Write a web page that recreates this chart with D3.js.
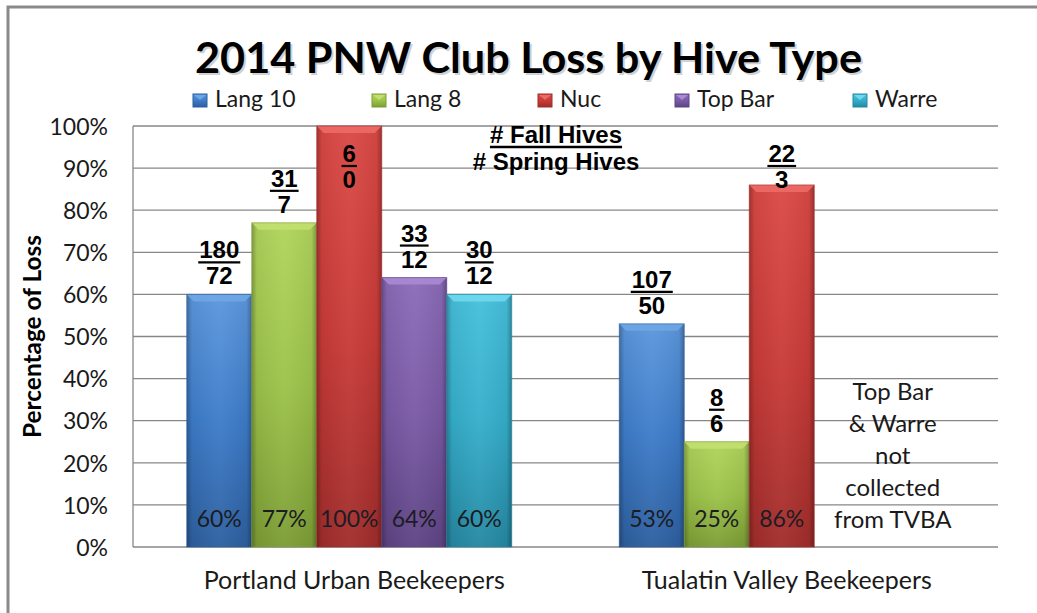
<!DOCTYPE html>
<html>
<head>
<meta charset="utf-8">
<script src="https://cdn.jsdelivr.net/npm/d3@7/dist/d3.min.js"></script>
<style>
  html, body { margin: 0; padding: 0; background: #fff; }
  svg { display: block; }
</style>
</head>
<body>
<svg id="chart" width="1037" height="613"></svg>
<script>
// ---------------- DATA ----------------
const categories = ["Portland Urban Beekeepers", "Tualatin Valley Beekeepers"];
const seriesNames = ["Lang 10", "Lang 8", "Nuc", "Top Bar", "Warre"];
// percentage of loss per series, [Portland, Tualatin]
const lang10Loss = [60, 53];
const lang8Loss  = [77, 25];
const nucLoss    = [100, 86];
const topBarLoss = [64, null];
const warreLoss  = [60, null];
// fall hive counts per series
const lang10Fall = [180, 107];
const lang8Fall  = [31, 8];
const nucFall    = [6, 22];
const topBarFall = [33, null];
const warreFall  = [30, null];
// spring hive counts per series
const lang10Spring = [72, 50];
const lang8Spring  = [7, 6];
const nucSpring    = [0, 3];
const topBarSpring = [12, null];
const warreSpring  = [12, null];
const yTicks = [0, 10, 20, 30, 40, 50, 60, 70, 80, 90, 100];
const titleText = "2014 PNW Club Loss by Hive Type";
const yAxisTitle = "Percentage of Loss";
const keyLines = ["# Fall Hives", "# Spring Hives"];
const noteLines = ["Top Bar", "& Warre", "not", "collected", "from TVBA"];

const lossBySeries = [lang10Loss, lang8Loss, nucLoss, topBarLoss, warreLoss];
const fallBySeries = [lang10Fall, lang8Fall, nucFall, topBarFall, warreFall];
const springBySeries = [lang10Spring, lang8Spring, nucSpring, topBarSpring, warreSpring];

// ---------------- STYLE / LAYOUT ----------------
const colors = {
  "Lang 10": { base: "#3d7cc9", light: "#5c97dd", dark: "#2d5f9f", bevel: "#6fa6e6" },
  "Lang 8":  { base: "#9dc34a", light: "#b0d45c", dark: "#7c9d35", bevel: "#c2e070" },
  "Nuc":     { base: "#c93b38", light: "#da4945", dark: "#a02d2b", bevel: "#ec6a66" },
  "Top Bar": { base: "#7a5aa6", light: "#8b6bb8", dark: "#5e4484", bevel: "#a98ad3" },
  "Warre":   { base: "#35aecb", light: "#46c0dc", dark: "#2588a2", bevel: "#6fd8ee" }
};
const plot = { left: 133, right: 998, top: 126, bottom: 547 };
const legendX = [193, 372, 538, 675, 853];
const gridColor = "#878787";
const sansFont = "Lato, 'Open Sans', sans-serif";
const arialFont = "'Liberation Sans', Arial, sans-serif";

const svg = d3.select("#chart");
const defs = svg.append("defs");

// gradients per series
seriesNames.forEach((s, i) => {
  const c = colors[s];
  const gv = defs.append("linearGradient").attr("id", "gv" + i)
    .attr("x1", 0).attr("y1", 0).attr("x2", 0).attr("y2", 1);
  gv.append("stop").attr("offset", "0").attr("stop-color", c.light);
  gv.append("stop").attr("offset", "0.5").attr("stop-color", c.base);
  gv.append("stop").attr("offset", "1").attr("stop-color", c.dark);
});
const gh = defs.append("linearGradient").attr("id", "edgeShade")
  .attr("x1", 0).attr("y1", 0).attr("x2", 1).attr("y2", 0);
gh.append("stop").attr("offset", "0").attr("stop-color", "#000").attr("stop-opacity", 0.28);
gh.append("stop").attr("offset", "0.08").attr("stop-color", "#000").attr("stop-opacity", 0.05);
gh.append("stop").attr("offset", "0.5").attr("stop-color", "#fff").attr("stop-opacity", 0.04);
gh.append("stop").attr("offset", "0.92").attr("stop-color", "#000").attr("stop-opacity", 0.05);
gh.append("stop").attr("offset", "1").attr("stop-color", "#000").attr("stop-opacity", 0.3);

// outer frame
svg.append("path")
  .attr("d", `M8,${ 620 } L8,7 L1040,7`)
  .attr("fill", "none").attr("stroke", "#8a8a8a").attr("stroke-width", 3);

// ---------------- SCALES ----------------
const x0 = d3.scaleBand().domain(categories).range([plot.left, plot.right]).padding(0);
const x1 = d3.scaleBand().domain(seriesNames).range([0, x0.bandwidth()])
  .paddingInner(0).paddingOuter(0.827);
const y = d3.scaleLinear().domain([0, 100]).range([plot.bottom, plot.top]);

// grid lines
svg.append("g").selectAll("line").data(yTicks).join("line")
  .attr("x1", plot.left).attr("x2", plot.right)
  .attr("y1", d => y(d)).attr("y2", d => y(d))
  .attr("stroke", gridColor).attr("stroke-width", 1.3);

// left axis line
svg.append("line").attr("x1", plot.left).attr("x2", plot.left)
  .attr("y1", plot.top).attr("y2", plot.bottom)
  .attr("stroke", gridColor).attr("stroke-width", 1.3);

// y axis via d3.axisLeft
const yAxis = d3.axisLeft(y).tickValues(yTicks).tickFormat(d => d + "%").tickSize(0).tickPadding(0);
const yg = svg.append("g").attr("transform", `translate(108,0)`).call(yAxis);
yg.select(".domain").remove();
yg.selectAll("text").attr("font-family", sansFont).attr("font-size", 23)
  .attr("fill", "#1a1a1a").attr("dy", "0.36em");

// y axis title
svg.append("text")
  .attr("transform", `translate(41,${(plot.top + plot.bottom) / 2 - 0}) rotate(-90)`)
  .attr("text-anchor", "middle")
  .attr("font-family", sansFont).attr("font-weight", "bold").attr("font-size", 24)
  .attr("textLength", 203).attr("lengthAdjust", "spacingAndGlyphs")
  .attr("fill", "#000").text(yAxisTitle);

// x axis labels via d3.axisBottom
const xAxis = d3.axisBottom(x0).tickSize(0).tickPadding(0);
const xg = svg.append("g").attr("transform", `translate(0,${plot.bottom})`).call(xAxis);
xg.select(".domain").remove();
xg.selectAll("text").attr("font-family", sansFont).attr("font-size", 25)
  .attr("fill", "#1a1a1a").attr("dy", "42px").attr("dx", "5px");

// ---------------- BARS ----------------
const barData = [];
categories.forEach((cat, ci) => {
  seriesNames.forEach((s, si) => {
    const v = lossBySeries[si][ci];
    if (v == null) return;
    barData.push({ cat, s, si, v, fall: fallBySeries[si][ci], spring: springBySeries[si][ci] });
  });
});

const bars = svg.append("g").selectAll("g").data(barData).join("g")
  .attr("transform", d => `translate(${x0(d.cat) + x1(d.s)},0)`);
const bw = x1.bandwidth();
bars.append("rect")
  .attr("x", 0).attr("y", d => y(d.v)).attr("width", bw)
  .attr("height", d => y(0) - y(d.v))
  .attr("fill", d => `url(#gv${d.si})`);
bars.append("rect")
  .attr("x", 0).attr("y", d => y(d.v)).attr("width", bw)
  .attr("height", d => y(0) - y(d.v))
  .attr("fill", "url(#edgeShade)");
// top bevel
const bev = 7;
bars.append("path")
  .attr("d", d => {
    const t = y(d.v);
    return `M0,${t} L${bw},${t} L${bw - bev},${t + bev} L${bev},${t + bev} Z`;
  })
  .attr("fill", d => colors[d.s].bevel).attr("opacity", 0.9);
bars.append("rect")
  .attr("x", 0).attr("y", d => y(d.v)).attr("width", bw)
  .attr("height", d => y(0) - y(d.v))
  .attr("fill", "none").attr("stroke", d => colors[d.s].dark).attr("stroke-width", 1).attr("stroke-opacity", 0.6);

// percent labels inside bars
bars.append("text")
  .attr("x", bw / 2).attr("y", plot.bottom - 20)
  .attr("text-anchor", "middle")
  .attr("font-family", sansFont).attr("font-size", 23)
  .attr("fill", "#1c1c24").text(d => d.v + "%");

// fraction labels
bars.each(function(d) {
  const g = d3.select(this);
  const t = y(d.v);
  const numBase = Math.max(t - 36, plot.top + 36);
  const denBase = numBase + 26;
  const num = g.append("text")
    .attr("x", bw / 2).attr("y", numBase).attr("text-anchor", "middle")
    .attr("font-family", arialFont).attr("font-weight", "bold").attr("font-size", 24)
    .attr("fill", "#000").text(d.fall);
  g.append("text")
    .attr("x", bw / 2).attr("y", denBase).attr("text-anchor", "middle")
    .attr("font-family", arialFont).attr("font-weight", "bold").attr("font-size", 24)
    .attr("fill", "#000").text(d.spring);
  const w = num.node().getComputedTextLength();
  g.append("line")
    .attr("x1", bw / 2 - w / 2 - 1).attr("x2", bw / 2 + w / 2 + 1)
    .attr("y1", numBase + 4).attr("y2", numBase + 4)
    .attr("stroke", "#000").attr("stroke-width", 2.2);
});

// ---------------- KEY TEXT ----------------
const keyX = 556;
const k1 = svg.append("text").attr("x", keyX).attr("y", 143).attr("text-anchor", "middle")
  .attr("font-family", arialFont).attr("font-weight", "bold").attr("font-size", 24)
  .attr("fill", "#000").text(keyLines[0]);
const kw = k1.node().getComputedTextLength();
svg.append("line").attr("x1", keyX - kw / 2).attr("x2", keyX + kw / 2)
  .attr("y1", 147).attr("y2", 147).attr("stroke", "#000").attr("stroke-width", 2.5);
svg.append("text").attr("x", keyX).attr("y", 170).attr("text-anchor", "middle")
  .attr("font-family", arialFont).attr("font-weight", "bold").attr("font-size", 24)
  .attr("fill", "#000").text(keyLines[1]);

// ---------------- NOTE ----------------
const noteX = x0(categories[1]) + x1("Warre") + bw / 2 - 19;
svg.append("g").selectAll("text").data(noteLines).join("text")
  .attr("x", noteX).attr("y", (d, i) => 400 + i * 32)
  .attr("text-anchor", "middle")
  .attr("font-family", sansFont).attr("font-size", 24)
  .attr("fill", "#1a1a1a").text(d => d);

// ---------------- TITLE ----------------
svg.append("text").attr("x", 197).attr("y", 75)
  .attr("font-family", sansFont).attr("font-weight", "bold").attr("font-size", 42)
  .attr("fill", "#9a9a9a").attr("opacity", 0.45)
  .attr("textLength", 667).attr("lengthAdjust", "spacingAndGlyphs").text(titleText);
svg.append("text").attr("x", 195).attr("y", 73)
  .attr("font-family", sansFont).attr("font-weight", "bold").attr("font-size", 42)
  .attr("fill", "#000")
  .attr("textLength", 667).attr("lengthAdjust", "spacingAndGlyphs").text(titleText);

// ---------------- LEGEND ----------------
const lg = svg.append("g").selectAll("g").data(seriesNames).join("g")
  .attr("transform", (d, i) => `translate(${legendX[i]},94)`);
lg.append("rect").attr("width", 14).attr("height", 13)
  .attr("fill", (d, i) => `url(#gv${i})`);
lg.append("path").attr("d", "M1,1 L13,1 L7,6 Z")
  .attr("fill", d => colors[d].bevel);
lg.append("rect").attr("width", 14).attr("height", 13)
  .attr("fill", "none").attr("stroke", d => colors[d].dark).attr("stroke-width", 1);
lg.append("text").attr("x", 22).attr("y", 13)
  .attr("font-family", sansFont).attr("font-size", 23)
  .attr("fill", "#1a1a1a").text(d => d);
</script>
</body>
</html>
